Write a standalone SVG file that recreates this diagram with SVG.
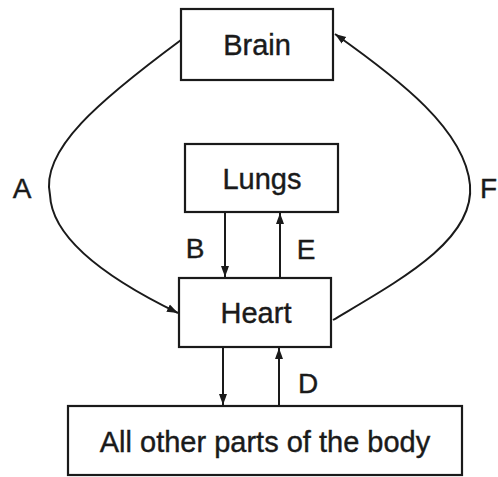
<svg xmlns="http://www.w3.org/2000/svg" width="498" height="477" viewBox="0 0 498 477">
<defs>
<style>
.box{fill:#fff;stroke:#1a1a1a;stroke-width:2.2}
.lbl{font-family:"Liberation Sans",Arial,sans-serif;font-size:29px;fill:#1a1a1a;stroke:#1a1a1a;stroke-width:0.4;text-anchor:middle}
.ltr{font-family:"Liberation Sans",Arial,sans-serif;font-size:28px;fill:#1a1a1a;stroke:#1a1a1a;stroke-width:0.4;text-anchor:middle}
.con{fill:none;stroke:#1a1a1a;stroke-width:2}
</style>
<marker id="ah" markerWidth="12" markerHeight="10" refX="11" refY="5" orient="auto" markerUnits="userSpaceOnUse">
<path d="M0,1 L11,5 L0,9 Z" fill="#1a1a1a"/>
</marker>
</defs>
<rect width="498" height="477" fill="#fff"/>
<g id="connectors">
<path class="con" d="M181,40 C100,100 40,150 50,195 C52,240 110,280 178,313" marker-end="url(#ah)"/>
<path class="con" d="M333,320 C400,280 475,240 470,185 C465,130 400,80 335,34" marker-end="url(#ah)"/>
<line class="con" x1="225" y1="212" x2="225" y2="277" marker-end="url(#ah)"/>
<line class="con" x1="280" y1="278" x2="280" y2="213" marker-end="url(#ah)"/>
<line class="con" x1="223" y1="347" x2="223" y2="405" marker-end="url(#ah)"/>
<line class="con" x1="279" y1="406" x2="279" y2="348" marker-end="url(#ah)"/>
</g>
<g id="brain"><rect class="box" x="181" y="9" width="152" height="71"/><text class="lbl" x="257" y="55">Brain</text></g>
<g id="lungs"><rect class="box" x="185" y="144" width="153" height="68"/><text class="lbl" x="262" y="189">Lungs</text></g>
<g id="heart"><rect class="box" x="179" y="278" width="152" height="69"/><text class="lbl" x="256" y="323">Heart</text></g>
<g id="body"><rect class="box" x="68" y="406" width="394" height="69"/><text class="lbl" x="265" y="452">All other parts of the body</text></g>
<g id="labels">
<text class="ltr" x="22" y="198">A</text>
<text class="ltr" x="480" y="198" style="text-anchor:start">F</text>
<text class="ltr" x="195" y="258">B</text>
<text class="ltr" x="306" y="259">E</text>
<text class="ltr" x="308" y="393">D</text>
</g>
</svg>
